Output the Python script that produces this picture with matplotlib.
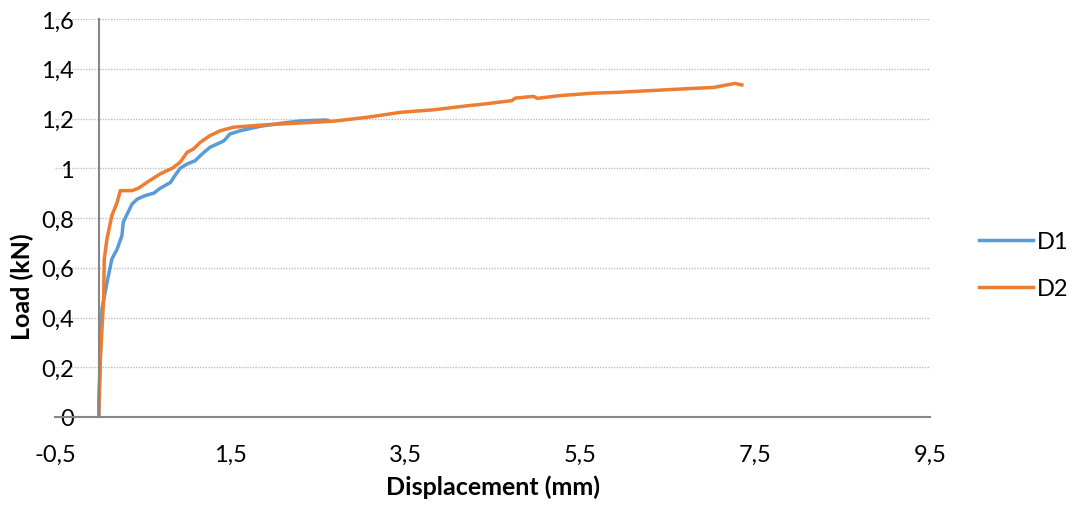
import matplotlib.pyplot as plt

# load-displacement readings (mm, kN)
d1_x = [0, 0.0, 0.037, 0.094, 0.15, 0.21, 0.265, 0.28, 0.38, 0.44, 0.53, 0.63, 0.70,
        0.82, 0.87, 0.93, 1.01, 1.10, 1.18, 1.27, 1.43, 1.50, 1.62, 1.85, 2.11, 2.30,
        2.59, 2.62]
d1_y = [0, 0.06, 0.434, 0.54, 0.635, 0.675, 0.729, 0.783, 0.856, 0.876, 0.89, 0.90,
        0.919, 0.943, 0.97, 1.0, 1.017, 1.03, 1.057, 1.084, 1.11, 1.138, 1.151, 1.169,
        1.182, 1.19, 1.194, 1.192]

d2_x = [0, 0.02, 0.055, 0.063, 0.094, 0.15, 0.21, 0.246, 0.38, 0.455, 0.55, 0.70,
        0.84, 0.93, 1.01, 1.08, 1.16, 1.27, 1.39, 1.54, 1.92, 2.30, 2.68, 3.07, 3.45,
        3.83, 4.21, 4.40, 4.72, 4.76, 4.97, 5.01, 5.27, 5.65, 5.92, 6.30, 6.68, 7.03,
        7.27, 7.35]
d2_y = [0, 0.246, 0.47, 0.635, 0.716, 0.81, 0.863, 0.91, 0.91, 0.92, 0.943, 0.977,
        1.0, 1.024, 1.064, 1.077, 1.104, 1.131, 1.151, 1.165, 1.175, 1.182, 1.189,
        1.205, 1.225, 1.235, 1.251, 1.258, 1.272, 1.282, 1.289, 1.281, 1.292, 1.302,
        1.305, 1.312, 1.319, 1.325, 1.341, 1.335]

x_ticks = [-0.5, 1.5, 3.5, 5.5, 7.5, 9.5]
x_labels = ["-0,5", "1,5", "3,5", "5,5", "7,5", "9,5"]
y_ticks = [0, 0.2, 0.4, 0.6, 0.8, 1.0, 1.2, 1.4, 1.6]
y_labels = ["0", "0,2", "0,4", "0,6", "0,8", "1", "1,2", "1,4", "1,6"]

plt.rcParams['font.family'] = ['Lato', 'DejaVu Sans']
fs = 17
lfs = 18

fig = plt.figure(figsize=(10.76, 5.06), dpi=100)
ax = fig.add_axes([55 / 1076, 88 / 506, 875 / 1076, 398 / 506])

ax.plot(d1_x, d1_y, color='#5B9BD5', lw=2.5, label='D1', solid_joinstyle='round')
ax.plot(d2_x, d2_y, color='#ED7D31', lw=2.5, label='D2', solid_joinstyle='round')

for s in ['top', 'right']:
    ax.spines[s].set_visible(False)
ax.spines['left'].set_position(('data', 0))
ax.spines['left'].set_color('#868686')
ax.spines['left'].set_linewidth(1.5)
ax.spines['bottom'].set_color('#868686')
ax.spines['bottom'].set_linewidth(1.5)

ax.set_xlim(-0.5, 9.5)
ax.set_ylim(0, 1.6)
ax.set_xticks(x_ticks)
ax.set_xticklabels(x_labels)
ax.set_yticks(y_ticks)
ax.set_yticklabels(y_labels)
ax.tick_params(axis='y', length=0, pad=18, labelsize=fs)
ax.tick_params(axis='x', length=0, pad=19, labelsize=fs)

ax.grid(axis='y', color='#BFBFBF', ls=(0, (1, 1)), lw=1)
ax.set_axisbelow(True)

ax.set_xlabel('Displacement (mm)', fontsize=lfs, fontweight='bold', labelpad=7)
fig.text(22 / 1076, 219 / 506, 'Load (kN)', fontsize=lfs, fontweight='bold',
         rotation=90, ha='center', va='center')

fig.legend(loc='center left', bbox_to_anchor=(979 / 1076, 1 - 266 / 506),
           frameon=False, fontsize=fs, handlelength=2.3, handletextpad=0.15,
           labelspacing=1.1, borderpad=0, borderaxespad=0)

fig.savefig('out.png', dpi=100)
